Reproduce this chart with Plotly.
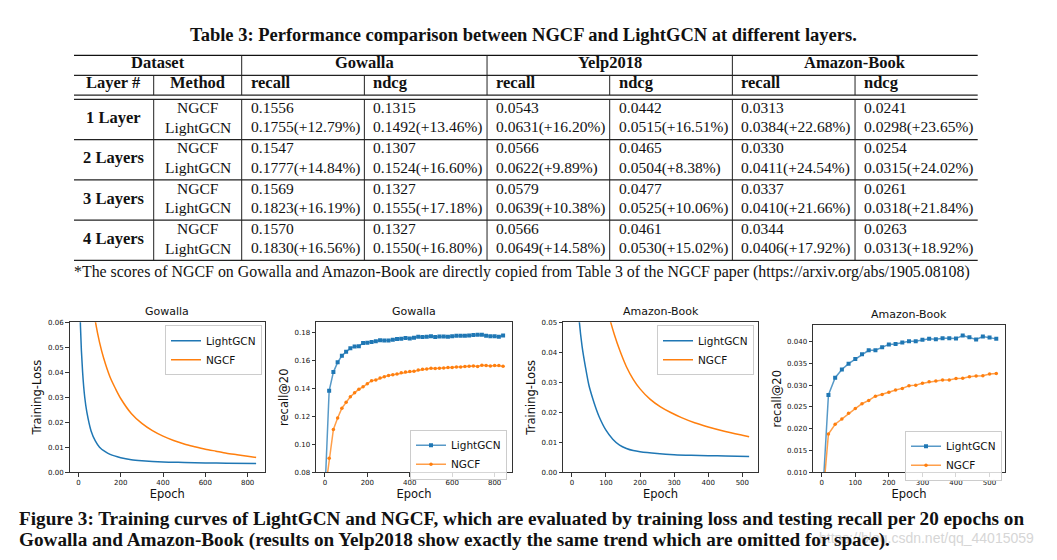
import plotly.graph_objects as go

# ---------------- data ----------------
table_title = "Table 3: Performance comparison between NGCF and LightGCN at different layers."
datasets = ["Gowalla", "Yelp2018", "Amazon-Book"]
metrics = ["recall", "ndcg"]
layers = ["1 Layer", "2 Layers", "3 Layers", "4 Layers"]
methods = ["NGCF", "LightGCN"]
ngcf_scores = [
    ["0.1556", "0.1315", "0.0543", "0.0442", "0.0313", "0.0241"],
    ["0.1547", "0.1307", "0.0566", "0.0465", "0.0330", "0.0254"],
    ["0.1569", "0.1327", "0.0579", "0.0477", "0.0337", "0.0261"],
    ["0.1570", "0.1327", "0.0566", "0.0461", "0.0344", "0.0263"],
]
lightgcn_scores = [
    ["0.1755(+12.79%)", "0.1492(+13.46%)", "0.0631(+16.20%)", "0.0515(+16.51%)", "0.0384(+22.68%)", "0.0298(+23.65%)"],
    ["0.1777(+14.84%)", "0.1524(+16.60%)", "0.0622(+9.89%)", "0.0504(+8.38%)", "0.0411(+24.54%)", "0.0315(+24.02%)"],
    ["0.1823(+16.19%)", "0.1555(+17.18%)", "0.0639(+10.38%)", "0.0525(+10.06%)", "0.0410(+21.66%)", "0.0318(+21.84%)"],
    ["0.1830(+16.56%)", "0.1550(+16.80%)", "0.0649(+14.58%)", "0.0530(+15.02%)", "0.0406(+17.92%)", "0.0313(+18.92%)"],
]
footnote = ("*The scores of NGCF on Gowalla and Amazon-Book are directly copied from Table 3 of the NGCF paper "
            "(https://arxiv.org/abs/1905.08108)")
caption_1 = ("Figure 3: Training curves of LightGCN and NGCF, which are evaluated by training loss and testing recall "
             "per 20 epochs on")
caption_2 = ("Gowalla and Amazon-Book (results on Yelp2018 show exactly the same trend which are omitted for space).")
watermark = "https://blog.csdn.net/qq_44015059"

# Gowalla training loss
gow_loss_lgcn_epoch = [0, 10, 20, 30, 40, 60, 80, 100, 125, 150, 200, 250, 300, 400, 500, 600, 700, 840]
gow_loss_lgcn = [0.12, 0.058, 0.040, 0.030, 0.024, 0.0165, 0.0125, 0.0100, 0.0083, 0.0071, 0.0058,
                 0.0050, 0.0046, 0.0041, 0.0039, 0.0037, 0.0036, 0.0035]
gow_loss_ngcf_epoch = [70, 81, 100, 120, 150, 175, 200, 250, 300, 350, 400, 450, 500, 550, 600, 650, 700,
                       750, 800, 840]
gow_loss_ngcf = [0.066, 0.060, 0.052, 0.0455, 0.038, 0.0335, 0.0295, 0.0235, 0.0195, 0.0166, 0.0144, 0.0127,
                 0.0113, 0.0102, 0.0092, 0.0084, 0.0076, 0.0070, 0.0064, 0.0059]

# Gowalla recall@20, every 20 epochs
gow_epochs = list(range(0, 841, 20))
gow_recall_lgcn = [0.065, 0.1384, 0.1518, 0.1588, 0.1635, 0.1664, 0.1690, 0.1701, 0.1704, 0.1727, 0.1729,
                   0.1734, 0.1739, 0.1746, 0.1744, 0.1744, 0.1751, 0.1755, 0.1758, 0.1762, 0.1760, 0.1765,
                   0.1772, 0.1770, 0.1772, 0.1776, 0.1770, 0.1774, 0.1774, 0.1772, 0.1776, 0.1779, 0.1779,
                   0.1779, 0.1781, 0.1784, 0.1786, 0.1786, 0.1779, 0.1776, 0.1776, 0.1772, 0.1781]
gow_recall_ngcf = [0.065, 0.0899, 0.1106, 0.1188, 0.1259, 0.1301, 0.1341, 0.1369, 0.1395, 0.1412, 0.1435,
                   0.1456, 0.1461, 0.1475, 0.1485, 0.1494, 0.1499, 0.1504, 0.1513, 0.1518, 0.1522, 0.1525,
                   0.1534, 0.1539, 0.1541, 0.1546, 0.1544, 0.1546, 0.1548, 0.1551, 0.1551, 0.1555, 0.1555,
                   0.1558, 0.1560, 0.1562, 0.1558, 0.1567, 0.1565, 0.1562, 0.1565, 0.1565, 0.1560]

# Amazon-Book training loss
amz_loss_lgcn_epoch = [0, 10, 20, 30, 40, 50, 60, 70, 80, 100, 120, 140, 160, 180, 200, 250, 300, 350, 400, 450, 520]
amz_loss_lgcn = [0.12, 0.09, 0.053, 0.042, 0.035, 0.029, 0.025, 0.0215, 0.0185, 0.0140, 0.0110, 0.0090,
                 0.0079, 0.0072, 0.0068, 0.0062, 0.0058, 0.0056, 0.0055, 0.0054, 0.0052]
amz_loss_ngcf_epoch = [100, 114, 125, 141, 160, 180, 200, 230, 260, 290, 320, 360, 400, 450, 500, 520]
amz_loss_ngcf = [0.0560, 0.0500, 0.0458, 0.0405, 0.0352, 0.0310, 0.0278, 0.0243, 0.0218, 0.0199, 0.0183,
                 0.0165, 0.0151, 0.0136, 0.0123, 0.0118]

# Amazon-Book recall@20, every 20 epochs
amz_epochs = list(range(0, 521, 20))
amz_recall_lgcn = [0.001, 0.02778, 0.03175, 0.03363, 0.03498, 0.03603, 0.03715, 0.03805, 0.03805, 0.03873,
                   0.03940, 0.03948, 0.03985, 0.04015, 0.04015, 0.04045, 0.04068, 0.04060, 0.04083, 0.04083,
                   0.04075, 0.04143, 0.04105, 0.04053, 0.04120, 0.04098, 0.04068]
amz_recall_ngcf = [0.001, 0.01878, 0.02103, 0.02223, 0.02358, 0.02463, 0.02575, 0.02650, 0.02748, 0.02785,
                   0.02838, 0.02890, 0.02928, 0.02988, 0.03003, 0.03048, 0.03078, 0.03100, 0.03123, 0.03123,
                   0.03153, 0.03160, 0.03198, 0.03213, 0.03220, 0.03258, 0.03273]

# ---------------- layout helpers ----------------
# the page body has an 8px margin, so the figure is placed at (8, 8) and sized to fill the window
OFF = 8
W, H = 1057 - 2 * OFF, 560 - 2 * OFF
def px(x):
    return (x - OFF) / W
def py(y):
    return 1 - (y - OFF) / H

BLUE = "#1f77b4"
ORANGE = "#ff7f0e"
BLUE_LINE = "rgba(31,119,180,0.75)"
ORANGE_LINE = "rgba(255,127,14,0.75)"
SERIF = "Liberation Serif"
SANS = "DejaVu Sans"

fig = go.Figure()

# ---------------- charts ----------------
panels = [
    dict(x=(69.5, 265), y=(323, 475), xr=[-42, 882], yr=[0, 0.06], dt=0.01, fmt=".2f",
         xt=[0, 200, 400, 600, 800], title="Gowalla", ytitle="Training-Loss",
         leg=(262, 326)),
    dict(x=(316, 512), y=(323, 475), xr=[-42, 882], yr=[0.08, 0.1875], dt=0.02, fmt=".2f",
         xt=[0, 200, 400, 600, 800], title="Gowalla", ytitle="recall@20",
         leg=(507, 432)),
    dict(x=(563, 758), y=(323, 475), xr=[-26, 546], yr=[0, 0.05], dt=0.01, fmt=".2f",
         xt=[0, 100, 200, 300, 400, 500], title="Amazon-Book", ytitle="Training-Loss",
         leg=(754, 326)),
    dict(x=(813, 1005), y=(326, 475), xr=[-26, 546], yr=[0.010, 0.0438], dt=0.005, fmt=".3f",
         xt=[0, 100, 200, 300, 400, 500], title="Amazon-Book", ytitle="recall@20",
         leg=(1002, 433)),
]

series = [
    [(gow_loss_lgcn_epoch, gow_loss_lgcn, "LightGCN", "loss_b"),
     (gow_loss_ngcf_epoch, gow_loss_ngcf, "NGCF", "loss_o")],
    [(gow_epochs, gow_recall_lgcn, "LightGCN", "rec_b"),
     (gow_epochs, gow_recall_ngcf, "NGCF", "rec_o")],
    [(amz_loss_lgcn_epoch, amz_loss_lgcn, "LightGCN", "loss_b"),
     (amz_loss_ngcf_epoch, amz_loss_ngcf, "NGCF", "loss_o")],
    [(amz_epochs, amz_recall_lgcn, "LightGCN", "rec_b"),
     (amz_epochs, amz_recall_ngcf, "NGCF", "rec_o")],
]

layout_axes = {}
legends = {}
annotations = []
# watermark (drawn first, under the caption, as in the reference)
annotations.append(dict(text=watermark, x=px(1036), y=py(542), xref="paper", yref="paper",
                        xanchor="right", yanchor="middle", showarrow=False,
                        font=dict(family="Liberation Sans", size=14, color="#d6d6d6")))

for i, (p, sers) in enumerate(zip(panels, series)):
    n = i + 1
    xa = "x" if n == 1 else f"x{n}"
    ya = "y" if n == 1 else f"y{n}"
    lg = "legend" if n == 1 else f"legend{n}"
    for ex, vals, name, kind in sers:
        if kind == "loss_b":
            fig.add_trace(go.Scatter(x=ex, y=vals, name=name, mode="lines", xaxis=xa, yaxis=ya,
                                     legend=lg, line=dict(color=BLUE, width=1.5, shape="spline", smoothing=0.8)))
        elif kind == "loss_o":
            fig.add_trace(go.Scatter(x=ex, y=vals, name=name, mode="lines", xaxis=xa, yaxis=ya,
                                     legend=lg, line=dict(color=ORANGE, width=1.5, shape="spline", smoothing=0.8)))
        elif kind == "rec_b":
            fig.add_trace(go.Scatter(x=ex, y=vals, name=name, mode="lines+markers", xaxis=xa, yaxis=ya,
                                     legend=lg, line=dict(color=BLUE_LINE, width=1.5),
                                     marker=dict(color=BLUE, size=4, symbol="square")))
        else:
            fig.add_trace(go.Scatter(x=ex, y=vals, name=name, mode="lines+markers", xaxis=xa, yaxis=ya,
                                     legend=lg, line=dict(color=ORANGE_LINE, width=1.5),
                                     marker=dict(color=ORANGE, size=3.5, symbol="circle")))
    axis_common = dict(showline=True, linecolor="#333", linewidth=1, mirror=True, ticks="outside",
                       ticklen=3.5, tickwidth=0.8, tickcolor="#333", showgrid=False, zeroline=False,
                       tickfont=dict(family=SANS, size=7, color="#111"))
    layout_axes["xaxis" if n == 1 else f"xaxis{n}"] = dict(
        axis_common, domain=[px(p["x"][0]), px(p["x"][1])], anchor=ya, range=p["xr"],
        tickvals=p["xt"], title=dict(text="Epoch", font=dict(family=SANS, size=11.5, color="#111"), standoff=2))
    layout_axes["yaxis" if n == 1 else f"yaxis{n}"] = dict(
        axis_common, domain=[py(p["y"][1]), py(p["y"][0])], anchor=xa, range=p["yr"],
        dtick=p["dt"], tick0=0, tickformat=p["fmt"],
        title=dict(text=p["ytitle"], font=dict(family=SANS, size=11.5, color="#111"), standoff=3))
    legends[lg] = dict(x=px(p["leg"][0]), y=py(p["leg"][1]), xanchor="right", yanchor="top",
                       xref="paper", yref="paper",
                       bgcolor="rgba(255,255,255,0.8)", bordercolor="#cccccc", borderwidth=1,
                       font=dict(family=SANS, size=10.5, color="#111"), itemwidth=30, tracegroupgap=0)
    annotations.append(dict(text=p["title"], x=px((p["x"][0] + p["x"][1]) / 2), y=py(p["y"][0] - 2),
                            xref="paper", yref="paper", xanchor="center", yanchor="bottom",
                            showarrow=False, font=dict(family=SANS, size=11, color="#111")))

# ---------------- table ----------------
shapes = []
T_LEFT, T_RIGHT = 74, 977.7
col_edges = [241.7 + k * (T_RIGHT - 241.7) / 6 for k in range(7)]
y_top, y_h1, y_h2a, y_h2b = 52, 72.3, 92.3, 96.7
group_h = (260 - 96.7) / 4
row_lines = [96.7 + group_h * g for g in range(5)]
y_bottom = row_lines[-1]
x_layer_method = 153.7

def hline(y, color="#222", w=1.2):
    shapes.append(dict(type="line", xref="paper", yref="paper", x0=px(T_LEFT), x1=px(T_RIGHT),
                       y0=py(y), y1=py(y), line=dict(color=color, width=w)))

def vline(x, y0, y1, color="#222", w=1.0):
    shapes.append(dict(type="line", xref="paper", yref="paper", x0=px(x), x1=px(x),
                       y0=py(y0), y1=py(y1), line=dict(color=color, width=w)))

hline(y_top, "#111", 1.4)
hline(y_h1)
hline(y_h2a)
hline(y_h2b)
for yl in row_lines[1:]:
    hline(yl)
vline(x_layer_method, y_h1, y_h2a)
vline(x_layer_method, y_h2b, y_bottom)
for k, xe in enumerate(col_edges[:-1]):
    start = y_top if k % 2 == 0 else y_h1
    vline(xe, start, y_h2a)
    vline(xe, y_h2b, y_bottom)

def text(t, x, y, size=15.5, anchor="left", bold=False, color="#111", family=SERIF):
    annotations.append(dict(text=f"<b>{t}</b>" if bold else t, x=px(x), y=py(y), xref="paper",
                            yref="paper", xanchor=anchor, yanchor="middle", showarrow=False,
                            font=dict(family=family, size=size, color=color)))

text(table_title, 523.5, 31, size=18.5, anchor="center", bold=True)
text("Dataset", (T_LEFT + col_edges[0]) / 2, 59, size=16.5, anchor="center", bold=True)
for d, name in enumerate(datasets):
    text(name, (col_edges[2 * d] + col_edges[2 * d + 2]) / 2, 59, size=16.5, anchor="center", bold=True)
text("Layer #", (T_LEFT + x_layer_method) / 2, 79.5, size=16.5, anchor="center", bold=True)
text("Method", (x_layer_method + col_edges[0]) / 2, 79.5, size=16.5, anchor="center", bold=True)
for c in range(6):
    text(metrics[c % 2], col_edges[c] + 7, 79.5, size=16.5, bold=True)
for g, lname in enumerate(layers):
    top = row_lines[g]
    text(lname, (T_LEFT + x_layer_method) / 2, top + 18.5, size=16.5, anchor="center", bold=True)
    text(methods[0], (x_layer_method + col_edges[0]) / 2, top + 8.5, anchor="center")
    text(methods[1], (x_layer_method + col_edges[0]) / 2, top + 28.5, anchor="center")
    for c in range(6):
        text(ngcf_scores[g][c], col_edges[c] + 7, top + 8.5)
        text(lightgcn_scores[g][c], col_edges[c] + 7, top + 28.5)
text(footnote, 72, 272, size=15.9)

# caption
text(caption_1, 17, 522, size=19.2, bold=True)
text(caption_2, 17, 543.5, size=19.2, bold=True)

fig.update_layout(
    width=W, height=H, margin=dict(l=0, r=0, t=0, b=0),
    paper_bgcolor="white", plot_bgcolor="white",
    showlegend=True, shapes=shapes, annotations=annotations,
    **layout_axes, **legends,
)
fig.write_html("out.html")
